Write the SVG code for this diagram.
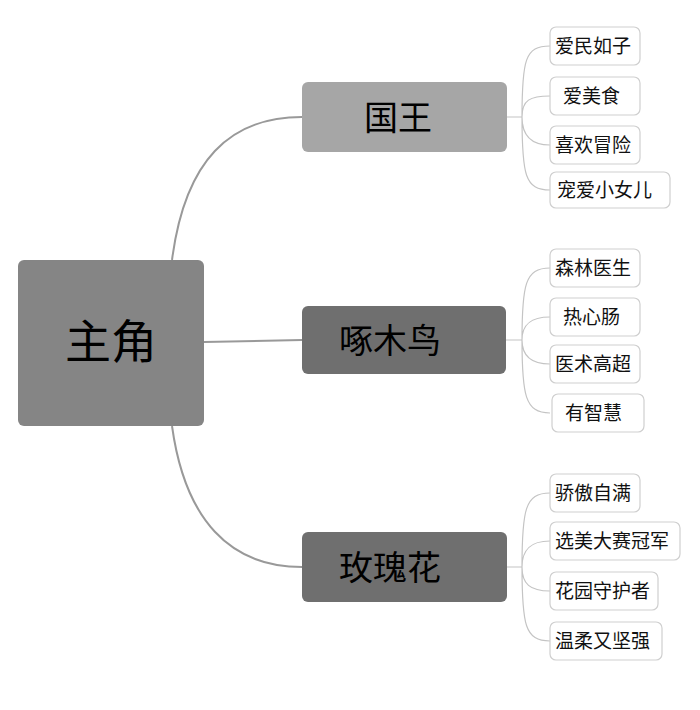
<svg xmlns="http://www.w3.org/2000/svg" width="700" height="710" viewBox="0 0 700 710">
<style>
.leaf rect{fill:#fff;stroke:#cfcfcf;stroke-width:1.2}
.leaf text{font-family:"Noto Sans CJK SC","Noto Sans",sans-serif;font-size:19px;fill:#111}
.br text{font-family:"Noto Sans CJK SC",sans-serif;font-size:34px;fill:#000;text-anchor:middle}
.c{fill:none;stroke:#999;stroke-width:2}
.t{fill:none;stroke:#c4c4c4;stroke-width:1.2}
</style>
<rect width="700" height="710" fill="#fff"/>
<g id="connectors">
<path class="c" d="M172 260 C185 160 230 117 302 117"/>
<path class="c" d="M204 342 L302 340" stroke="#888"/>
<path class="c" d="M172 426 C185 520 230 567 302 567" stroke="#888"/>
<path class="t" d="M507 117 H522 M550 46 C525 46 522 60 522 117 C522 175 525 190 550 190 M522 117 C522 100 530 96 550 96 M522 117 C522 135 530 145 550 145"/>
<path class="t" d="M506 340 H522 M550 268 C525 268 522 285 522 340 C522 395 525 413 550 413 M522 340 C522 325 530 317 550 317 M522 340 C522 355 530 364 550 364"/>
<path class="t" d="M507 567 H522 M550 493 C525 493 522 510 522 567 C522 625 525 641 550 641 M522 567 C522 550 530 541 550 541 M522 567 C522 584 530 591 550 591"/>
</g>
<g id="main"><rect x="18" y="260" width="186" height="166" rx="6" fill="#858585"/><text x="111" y="358" font-family="Noto Sans CJK SC,sans-serif" font-size="46" text-anchor="middle">主角</text></g>
<g id="guowang" class="br"><rect x="302" y="82" width="205" height="70" rx="6" fill="#a6a6a6"/><text x="398" y="130">国王</text></g>
<g id="zhuomuniao" class="br"><rect x="302" y="306" width="204" height="68" rx="6" fill="#6f6f6f"/><text x="390" y="353">啄木鸟</text></g>
<g id="meiguihua" class="br"><rect x="302" y="532" width="205" height="70" rx="6" fill="#6f6f6f"/><text x="390" y="580">玫瑰花</text></g>
<g id="l1" class="leaf"><rect x="550" y="27" width="90" height="38" rx="6"/><text x="555" y="53">爱民如子</text></g>
<g id="l2" class="leaf"><rect x="550" y="77" width="90" height="38" rx="6"/><text x="563" y="103">爱美食</text></g>
<g id="l3" class="leaf"><rect x="550" y="126" width="90" height="38" rx="6"/><text x="555" y="152">喜欢冒险</text></g>
<g id="l4" class="leaf"><rect x="550" y="172" width="120" height="36" rx="6"/><text x="557" y="197">宠爱小女儿</text></g>
<g id="l5" class="leaf"><rect x="550" y="249" width="90" height="38" rx="6"/><text x="555" y="275">森林医生</text></g>
<g id="l6" class="leaf"><rect x="550" y="298" width="90" height="38" rx="6"/><text x="563" y="324">热心肠</text></g>
<g id="l7" class="leaf"><rect x="550" y="345" width="90" height="38" rx="6"/><text x="555" y="371">医术高超</text></g>
<g id="l8" class="leaf"><rect x="552" y="394" width="92" height="38" rx="6"/><text x="565" y="420">有智慧</text></g>
<g id="l9" class="leaf"><rect x="550" y="474" width="90" height="38" rx="6"/><text x="555" y="500">骄傲自满</text></g>
<g id="l10" class="leaf"><rect x="550" y="522" width="130" height="38" rx="6"/><text x="555" y="548">选美大赛冠军</text></g>
<g id="l11" class="leaf"><rect x="550" y="572" width="108" height="38" rx="6"/><text x="555" y="598">花园守护者</text></g>
<g id="l12" class="leaf"><rect x="550" y="622" width="112" height="38" rx="6"/><text x="555" y="648">温柔又坚强</text></g>
</svg>
